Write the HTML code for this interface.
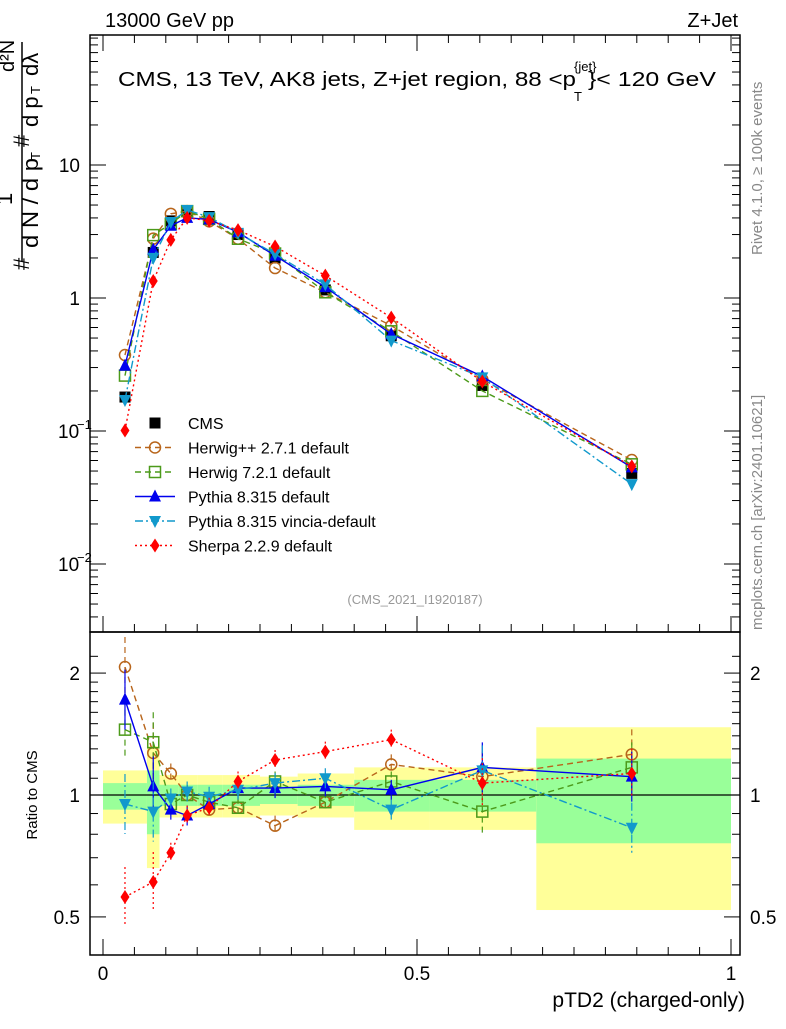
<!DOCTYPE html>
<html><head><meta charset="utf-8"><style>
body{margin:0;background:#fff;}
svg{font-family:"Liberation Sans",sans-serif;}
</style></head><body>
<svg id="c" width="786" height="1024" xmlns="http://www.w3.org/2000/svg">
</svg>
<script>
const xVals=[0.035,0.08,0.108,0.134,0.169,0.215,0.274,0.354,0.459,0.604,0.842];
const binEdges=[0,0.07,0.09,0.12,0.15,0.19,0.25,0.31,0.40,0.52,0.69,1.0];
const cms=[0.18,2.2,3.8,4.5,4.1,3.0,2.0,1.15,0.52,0.22,0.048];
const yellowLo=[0.85,0.66,0.88,0.88,0.88,0.88,0.89,0.88,0.82,0.82,0.52];
const yellowHi=[1.15,1.32,1.12,1.12,1.12,1.12,1.11,1.13,1.17,1.17,1.47];
const greenLo=[0.92,0.80,0.94,0.94,0.94,0.94,0.95,0.94,0.91,0.91,0.76];
const greenHi=[1.07,1.15,1.06,1.06,1.06,1.06,1.05,1.06,1.09,1.09,1.23];
const rHerwigpp=[2.07,1.27,1.13,1.0,0.92,0.93,0.84,0.96,1.19,1.11,1.26];
const rHerwig7=[1.45,1.35,0.95,1.0,0.96,0.93,1.08,0.96,1.08,0.91,1.17];
const rPythia=[1.72,1.05,0.92,0.89,0.95,1.04,1.04,1.05,1.03,1.17,1.11];
const rVincia=[0.95,0.91,0.98,1.02,0.99,1.03,1.07,1.1,0.92,1.15,0.83];
const rSherpa=[0.56,0.61,0.72,0.89,0.93,1.08,1.22,1.28,1.37,1.07,1.13];
const mainTicks=[10,1,0.1,0.01];
const ratioTicks=[2,1,0.5];
const xTicks=[0,0.5,1];

const svg=document.getElementById('c');
const NS='http://www.w3.org/2000/svg';
const L=90,R=740,MT=35,MB=632,RB=955;
const X=v=>103+628*v;
const YM=v=>298-133*Math.log10(v);
const YR=v=>795-405*Math.log10(v);
function el(t,a,txt){const e=document.createElementNS(NS,t);for(const k in a)e.setAttribute(k,a[k]);if(txt!==undefined)e.textContent=txt;svg.appendChild(e);return e;}

for(let i=0;i<cms.length;i++){
 const x0=X(binEdges[i]),x1=X(binEdges[i+1]);
 let b=el('rect',{x:x0,y:YR(yellowHi[i]),width:x1-x0,height:YR(yellowLo[i])-YR(yellowHi[i]),fill:'#ffff99'});
 
 
 b=el('rect',{x:x0,y:YR(greenHi[i]),width:x1-x0,height:YR(greenLo[i])-YR(greenHi[i]),fill:'#99ff99'});
 
 
}
el('line',{x1:L,x2:R,y1:YR(1),y2:YR(1),stroke:'#000','stroke-width':1.3});

let f=el('rect',{x:L,y:MT,width:R-L,height:MB-MT,fill:'none',stroke:'#000','stroke-width':1.5});

f=el('rect',{x:L,y:MB,width:R-L,height:RB-MB,fill:'none',stroke:'#000','stroke-width':1.5});


for(let d=-3;d<=1;d++){for(let m=1;m<10;m++){const v=m*Math.pow(10,d);const y=YM(v);if(y<MT||y>MB)continue;const len=m===1?16:8;
 el('line',{x1:L,x2:L+len,y1:y,y2:y,stroke:'#000','stroke-width':1});el('line',{x1:R,x2:R-len,y1:y,y2:y,stroke:'#000','stroke-width':1});}}
const mainLab=['10','1','10','10'];const mainSup=['','','−1','−2'];
mainTicks.forEach((v,i)=>{const t=el('text',{x:mainSup[i]?58:80,y:YM(v)+7,'font-size':19,'text-anchor':mainSup[i]?'start':'end'},mainLab[i]);
 
 if(mainSup[i])el('text',{x:77,y:YM(v)-2,'font-size':13},mainSup[i]);});
[0.4,0.5,0.6,0.7,0.8,0.9,1,1.1,1.2,1.3,1.4,1.5,1.6,1.7,1.8,1.9,2,2.2].forEach(v=>{const y=YR(v);if(y<MB||y>RB)return;const len=(v===0.5||v===1||v===2)?16:8;
 el('line',{x1:L,x2:L+len,y1:y,y2:y,stroke:'#000'});el('line',{x1:R,x2:R-len,y1:y,y2:y,stroke:'#000'});});
ratioTicks.forEach(v=>{let t=el('text',{x:80,y:YR(v)+7,'font-size':19,'text-anchor':'end'},String(v));
 
 t=el('text',{x:750,y:YR(v)+7,'font-size':19},String(v));
 });
for(let v=0;v<=1.0001;v+=0.05){const x=X(v);const big=Math.abs(v*10-Math.round(v*10))<1e-6&&Math.round(v*10)%5===0;const len=big?16:8;
 el('line',{x1:x,x2:x,y1:RB,y2:RB-len,stroke:'#000'});el('line',{x1:x,x2:x,y1:MB,y2:MB-len,stroke:'#000'});el('line',{x1:x,x2:x,y1:MT,y2:MT+len,stroke:'#000'});}
xTicks.forEach(v=>{const t=el('text',{x:X(v),y:980,'font-size':19,'text-anchor':'middle'},String(v));
 });

const series=[
 {name:'Herwig++ 2.7.1 default',r:rHerwigpp,c:'#b8651b',dash:'6,4',m:'circle'},
 {name:'Herwig 7.2.1 default',r:rHerwig7,c:'#4c9a1a',dash:'6,4',m:'square'},
 {name:'Pythia 8.315 default',r:rPythia,c:'#0000ee',dash:'',m:'tri'},
 {name:'Pythia 8.315 vincia-default',r:rVincia,c:'#1199cc',dash:'8,3,2,3',m:'tridown'},
 {name:'Sherpa 2.2.9 default',r:rSherpa,c:'#ff0000',dash:'2,3',m:'diamond'}];
function marker(m,x,y,c,nm){let e;
 if(m==='circle')e=el('circle',{cx:x,cy:y,r:5.5,fill:'none',stroke:c,'stroke-width':1.5});
 else if(m==='square')e=el('rect',{x:x-5.5,y:y-5.5,width:11,height:11,fill:'none',stroke:c,'stroke-width':1.5});
 else if(m==='tri')e=el('polygon',{points:`${x},${y-7} ${x-6},${y+5} ${x+6},${y+5}`,fill:c});
 else if(m==='tridown')e=el('polygon',{points:`${x},${y+7} ${x-6},${y-5} ${x+6},${y-5}`,fill:c});
 else if(m==='diamond')e=el('polygon',{points:`${x},${y-7} ${x-4.5},${y} ${x},${y+7} ${x+4.5},${y}`,fill:c});
 else e=el('rect',{x:x-5.5,y:y-5.5,width:11,height:11,fill:c});
 }
cms.forEach((v,i)=>marker('sq',X(xVals[i]),YM(v),'#000','cms-point'));
series.forEach(s=>{
 const pm=xVals.map((x,i)=>X(x)+','+YM(cms[i]*s.r[i])).join(' ');
 let p=el('polyline',{points:pm,fill:'none',stroke:s.c,'stroke-width':1.4,'stroke-dasharray':s.dash});
 
 const pr=xVals.map((x,i)=>X(x)+','+YR(s.r[i])).join(' ');
 p=el('polyline',{points:pr,fill:'none',stroke:s.c,'stroke-width':1.4,'stroke-dasharray':s.dash});
 
 xVals.forEach((x,i)=>{
  const yr=YR(s.r[i]);const e=Math.max(8,i<2?30:i>8?25:10);
  el('line',{x1:X(x),x2:X(x),y1:Math.max(MB,yr-e),y2:Math.min(RB,yr+e),stroke:s.c,'stroke-width':1.2,'stroke-dasharray':s.dash});
  marker(s.m,X(x),YM(cms[i]*s.r[i]),s.c,'main-point');
  marker(s.m,X(x),yr,s.c,'ratio-point');});
});
const lg=[{name:'CMS',c:'#000',m:'sq',dash:''}].concat(series);
lg.forEach((s,i)=>{const y=423+i*24.5;
 if(i>0){el('line',{x1:135,x2:175,y1:y,y2:y,stroke:s.c,'stroke-width':1.4,'stroke-dasharray':s.dash});}
 marker(s.m,155,y,s.c,'legend-marker');
 const t=el('text',{x:188,y:y+6,'font-size':16},s.name);
 });

function txt(a,s,nm){const t=el('text',a,s);return t;}
txt({x:105,y:27,'font-size':20},'13000 GeV pp','beam-label');
txt({x:738,y:27,'font-size':20,'text-anchor':'end'},'Z+Jet','process-label');
txt({x:118,y:86,'font-size':20,textLength:458,lengthAdjust:'spacingAndGlyphs'},'CMS, 13 TeV, AK8 jets, Z+jet region, 88 <p','plot-title');
txt({x:574,y:71,'font-size':13},'{jet}','title-sup');
txt({x:574,y:101,'font-size':13},'T','title-sub');
txt({x:588,y:86,'font-size':20,textLength:128,lengthAdjust:'spacingAndGlyphs'},'}< 120 GeV','plot-title-end');
txt({x:415,y:604,'font-size':13,fill:'#999','text-anchor':'middle'},'(CMS_2021_I1920187)','analysis-id');
txt({x:745,y:1007,'font-size':21,'text-anchor':'end'},'pTD2 (charged-only)','x-axis-title');
txt({x:0,y:0,'font-size':15,transform:'translate(37,795) rotate(-90)','text-anchor':'middle'},'Ratio to CMS','ratio-y-title');
txt({x:0,y:0,'font-size':15,fill:'#888',transform:'translate(762,255) rotate(-90)'},'Rivet 4.1.0, ≥ 100k events','rivet-label');
txt({x:0,y:0,'font-size':15,fill:'#888',transform:'translate(762,630) rotate(-90)'},'mcplots.cern.ch [arXiv:2401.10621]','mcplots-label');
el('line',{x1:22,x2:22,y1:42,y2:262,stroke:'#000','stroke-width':1.5});
txt({x:0,y:0,'font-size':22,transform:'translate(29,270) rotate(-90)'},'#','yt-hash1');
txt({x:0,y:0,'font-size':22,transform:'translate(38,248) rotate(-90)','textLength':90,lengthAdjust:'spacingAndGlyphs'},'d N / d p','yt-den1');
txt({x:0,y:0,'font-size':13,transform:'translate(40,160) rotate(-90)'},'T','yt-t1');
txt({x:0,y:0,'font-size':22,transform:'translate(12,205) rotate(-90)'},'1','yt-num1');
txt({x:0,y:0,'font-size':22,transform:'translate(29,147) rotate(-90)'},'#','yt-hash2');
txt({x:0,y:0,'font-size':22,transform:'translate(38,127) rotate(-90)'},'d p','yt-den2');
txt({x:0,y:0,'font-size':13,transform:'translate(40,94) rotate(-90)'},'T','yt-t2');
txt({x:0,y:0,'font-size':22,transform:'translate(38,76) rotate(-90)'},'dλ','yt-den3');
txt({x:0,y:0,'font-size':20,transform:'translate(14,72) rotate(-90)'},'d²N','yt-num2');
</script>
</body></html>
